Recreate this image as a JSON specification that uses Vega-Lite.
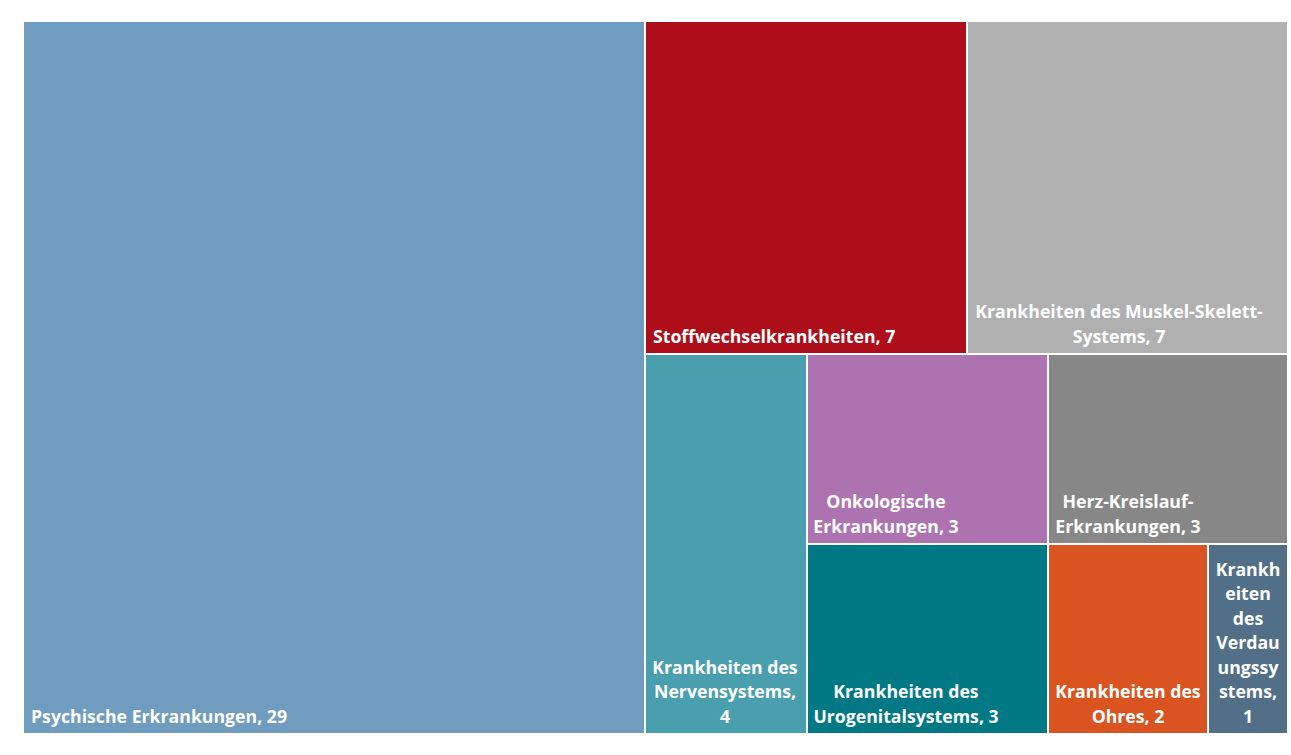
{
  "$schema": "https://vega.github.io/schema/vega-lite/v6.json",
  "background": "white",
  "padding": {"left": 24, "top": 22, "right": 4, "bottom": 22},
  "spacing": 2,
  "config": {
    "view": {"stroke": null},
    "concat": {"spacing": 2},
    "text": {"font": "Open Sans", "fontWeight": "bold", "fontSize": 17.7, "color": "white", "lineHeight": 24.5, "lineBreak": "\n", "baseline": "bottom"}
  },
  "data": {
    "values": [
      {"name": "Psychische Erkrankungen", "value": 29, "label": "Psychische Erkrankungen, 29"},
      {"name": "Stoffwechselkrankheiten", "value": 7, "label": "Stoffwechselkrankheiten, 7"},
      {"name": "Krankheiten des Muskel-Skelett-Systems", "value": 7, "label": "Krankheiten des Muskel-Skelett-\nSystems, 7"},
      {"name": "Krankheiten des Nervensystems", "value": 4, "label": "Krankheiten des\nNervensystems,\n4"},
      {"name": "Onkologische Erkrankungen", "value": 3, "label": "Onkologische\nErkrankungen, 3"},
      {"name": "Herz-Kreislauf-Erkrankungen", "value": 3, "label": "Herz-Kreislauf-\nErkrankungen, 3"},
      {"name": "Krankheiten des Urogenitalsystems", "value": 3, "label": "Krankheiten des\nUrogenitalsystems, 3"},
      {"name": "Krankheiten des Ohres", "value": 2, "label": "Krankheiten des\nOhres, 2"},
      {"name": "Krankheiten des Verdauungssystems", "value": 1, "label": "Krankh\neiten\ndes\nVerdau\nungssy\nstems,\n1"}
    ]
  },
  "hconcat": [
    {
      "width": 620, "height": 711,
      "transform": [{"filter": {"field": "name", "equal": "Psychische Erkrankungen"}}],
      "encoding": {
        "x": {"datum": 0, "type": "quantitative", "scale": {"domain": [0, 1], "nice": false}, "axis": null},
        "y": {"datum": 0, "type": "quantitative", "scale": {"domain": [0, 1], "nice": false}, "axis": null}
      },
      "layer": [
        {"mark": {"type": "rect"}, "encoding": {"x2": {"datum": 1}, "y2": {"datum": 1}, "color": {"field": "name", "type": "nominal", "legend": null, "scale": {"domain": ["Psychische Erkrankungen", "Stoffwechselkrankheiten", "Krankheiten des Muskel-Skelett-Systems", "Krankheiten des Nervensystems", "Onkologische Erkrankungen", "Herz-Kreislauf-Erkrankungen", "Krankheiten des Urogenitalsystems", "Krankheiten des Ohres", "Krankheiten des Verdauungssystems"], "range": ["#709cc0", "#ae0e19", "#b0b0b0", "#4a9fae", "#ad73b0", "#878787", "#007985", "#d95420", "#526f88"]}}}},
        {"mark": {"type": "text", "align": "left", "dx": 7, "dy": -6.5}, "encoding": {"text": {"field": "label"}}}
      ]
    },
    {
      "spacing": 2,
      "vconcat": [
        {
          "spacing": 2,
          "hconcat": [
            {
              "width": 320, "height": 331,
              "transform": [{"filter": {"field": "name", "equal": "Stoffwechselkrankheiten"}}],
              "encoding": {
                "x": {"datum": 0, "type": "quantitative", "scale": {"domain": [0, 1], "nice": false}, "axis": null},
                "y": {"datum": 0, "type": "quantitative", "scale": {"domain": [0, 1], "nice": false}, "axis": null}
              },
              "layer": [
                {"mark": {"type": "rect"}, "encoding": {"x2": {"datum": 1}, "y2": {"datum": 1}, "color": {"field": "name", "type": "nominal", "legend": null}}},
                {"mark": {"type": "text", "align": "left", "dx": 7, "dy": -6.5}, "encoding": {"text": {"field": "label"}}}
              ]
            },
            {
              "width": 319, "height": 331,
              "transform": [{"filter": {"field": "name", "equal": "Krankheiten des Muskel-Skelett-Systems"}}],
              "encoding": {
                "x": {"datum": 0, "type": "quantitative", "scale": {"domain": [0, 1], "nice": false}, "axis": null},
                "y": {"datum": 0, "type": "quantitative", "scale": {"domain": [0, 1], "nice": false}, "axis": null}
              },
              "layer": [
                {"mark": {"type": "rect"}, "encoding": {"x2": {"datum": 1}, "y2": {"datum": 1}, "color": {"field": "name", "type": "nominal", "legend": null}}},
                {"mark": {"type": "text", "align": "center", "dx": 151, "dy": -31}, "encoding": {"text": {"field": "label"}}}
              ]
            }
          ]
        },
        {
          "spacing": 2,
          "hconcat": [
            {
              "width": 160, "height": 378,
              "transform": [{"filter": {"field": "name", "equal": "Krankheiten des Nervensystems"}}],
              "encoding": {
                "x": {"datum": 0, "type": "quantitative", "scale": {"domain": [0, 1], "nice": false}, "axis": null},
                "y": {"datum": 0, "type": "quantitative", "scale": {"domain": [0, 1], "nice": false}, "axis": null}
              },
              "layer": [
                {"mark": {"type": "rect"}, "encoding": {"x2": {"datum": 1}, "y2": {"datum": 1}, "color": {"field": "name", "type": "nominal", "legend": null}}},
                {"mark": {"type": "text", "align": "center", "dx": 79, "dy": -55.5}, "encoding": {"text": {"field": "label"}}}
              ]
            },
            {
              "spacing": 2,
              "vconcat": [
                {
                  "spacing": 2,
                  "hconcat": [
                    {
                      "width": 239, "height": 188,
                      "transform": [{"filter": {"field": "name", "equal": "Onkologische Erkrankungen"}}],
                      "encoding": {
                        "x": {"datum": 0, "type": "quantitative", "scale": {"domain": [0, 1], "nice": false}, "axis": null},
                        "y": {"datum": 0, "type": "quantitative", "scale": {"domain": [0, 1], "nice": false}, "axis": null}
                      },
                      "layer": [
                        {"mark": {"type": "rect"}, "encoding": {"x2": {"datum": 1}, "y2": {"datum": 1}, "color": {"field": "name", "type": "nominal", "legend": null}}},
                        {"mark": {"type": "text", "align": "center", "dx": 78, "dy": -31}, "encoding": {"text": {"field": "label"}}}
                      ]
                    },
                    {
                      "width": 238, "height": 188,
                      "transform": [{"filter": {"field": "name", "equal": "Herz-Kreislauf-Erkrankungen"}}],
                      "encoding": {
                        "x": {"datum": 0, "type": "quantitative", "scale": {"domain": [0, 1], "nice": false}, "axis": null},
                        "y": {"datum": 0, "type": "quantitative", "scale": {"domain": [0, 1], "nice": false}, "axis": null}
                      },
                      "layer": [
                        {"mark": {"type": "rect"}, "encoding": {"x2": {"datum": 1}, "y2": {"datum": 1}, "color": {"field": "name", "type": "nominal", "legend": null}}},
                        {"mark": {"type": "text", "align": "center", "dx": 79, "dy": -31}, "encoding": {"text": {"field": "label"}}}
                      ]
                    }
                  ]
                },
                {
                  "spacing": 2,
                  "hconcat": [
                    {
                      "width": 239, "height": 188,
                      "transform": [{"filter": {"field": "name", "equal": "Krankheiten des Urogenitalsystems"}}],
                      "encoding": {
                        "x": {"datum": 0, "type": "quantitative", "scale": {"domain": [0, 1], "nice": false}, "axis": null},
                        "y": {"datum": 0, "type": "quantitative", "scale": {"domain": [0, 1], "nice": false}, "axis": null}
                      },
                      "layer": [
                        {"mark": {"type": "rect"}, "encoding": {"x2": {"datum": 1}, "y2": {"datum": 1}, "color": {"field": "name", "type": "nominal", "legend": null}}},
                        {"mark": {"type": "text", "align": "center", "dx": 98, "dy": -31}, "encoding": {"text": {"field": "label"}}}
                      ]
                    },
                    {
                      "width": 158, "height": 188,
                      "transform": [{"filter": {"field": "name", "equal": "Krankheiten des Ohres"}}],
                      "encoding": {
                        "x": {"datum": 0, "type": "quantitative", "scale": {"domain": [0, 1], "nice": false}, "axis": null},
                        "y": {"datum": 0, "type": "quantitative", "scale": {"domain": [0, 1], "nice": false}, "axis": null}
                      },
                      "layer": [
                        {"mark": {"type": "rect"}, "encoding": {"x2": {"datum": 1}, "y2": {"datum": 1}, "color": {"field": "name", "type": "nominal", "legend": null}}},
                        {"mark": {"type": "text", "align": "center", "dx": 79, "dy": -31}, "encoding": {"text": {"field": "label"}}}
                      ]
                    },
                    {
                      "width": 78, "height": 188,
                      "transform": [{"filter": {"field": "name", "equal": "Krankheiten des Verdauungssystems"}}],
                      "encoding": {
                        "x": {"datum": 0, "type": "quantitative", "scale": {"domain": [0, 1], "nice": false}, "axis": null},
                        "y": {"datum": 0, "type": "quantitative", "scale": {"domain": [0, 1], "nice": false}, "axis": null}
                      },
                      "layer": [
                        {"mark": {"type": "rect"}, "encoding": {"x2": {"datum": 1}, "y2": {"datum": 1}, "color": {"field": "name", "type": "nominal", "legend": null}}},
                        {"mark": {"type": "text", "align": "center", "dx": 39, "dy": -153.5}, "encoding": {"text": {"field": "label"}}}
                      ]
                    }
                  ]
                }
              ]
            }
          ]
        }
      ]
    }
  ]
}
